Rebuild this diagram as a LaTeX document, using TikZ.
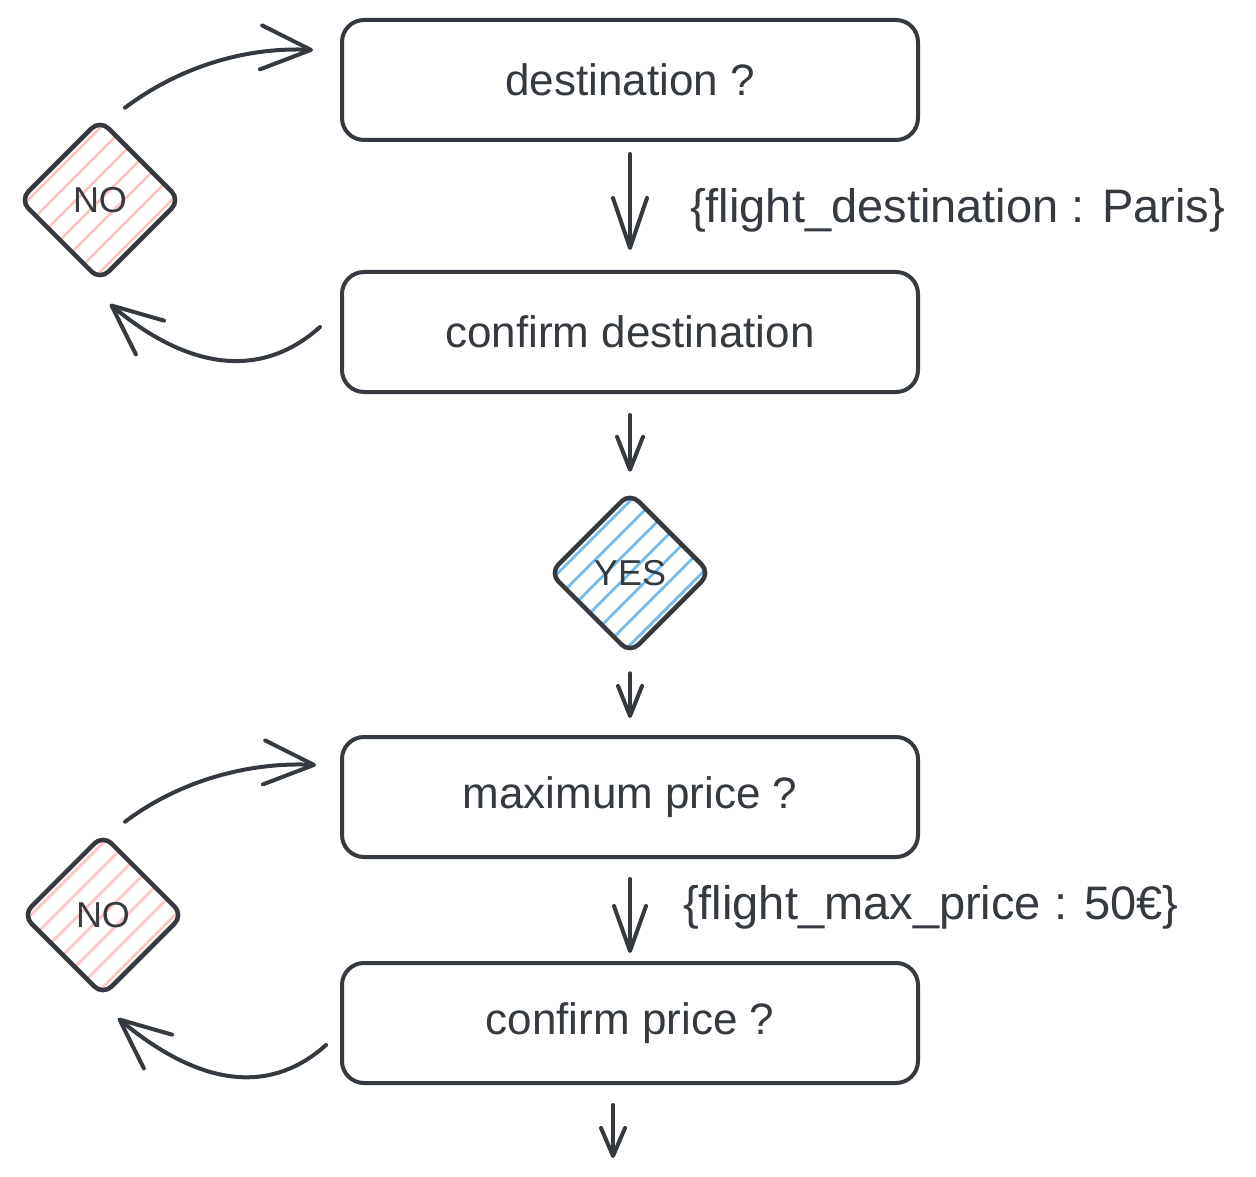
\documentclass[tikz,border=0pt]{standalone}
\usepackage{fontspec}
\setmainfont{Liberation Sans}
\usetikzlibrary{arrows.meta,shapes.geometric}
\definecolor{ink}{HTML}{343A40}
\definecolor{pinkh}{HTML}{FFC3C3}
\definecolor{blueh}{HTML}{74B8F2}
\begin{document}
\begin{tikzpicture}[x=1pt,y=-1pt,
 box/.style={draw=ink,line width=4pt,rounded corners=22pt,minimum width=576pt,minimum height=120pt,inner sep=0pt,font=\fontsize{44}{52}\selectfont,text=ink},
 dia/.style={diamond,draw=ink,line width=4.5pt,rounded corners=12pt,minimum width=162pt,minimum height=162pt,inner sep=0pt,font=\fontsize{36}{42}\selectfont,text=ink},
 hatch/.style={path picture={\foreach \k in {-7,...,7}{\draw[#1,line width=2.5pt] ([shift={(\k*24-110,110)}]path picture bounding box.center) -- ++(220,-220);}}},
 arr/.style 2 args={draw=ink,line width=4pt,line cap=round,-{Straight Barb[length=#1,width=#2,round]}},
 lbl/.style={text=ink,font=\fontsize{47}{54}\selectfont,anchor=west,inner sep=0pt}]
\useasboundingbox[fill=white] (0,0) rectangle (1256,1177);

\node[box] (b1) at (630,80) {destination ?};
\node[box] (b2) at (630,332) {confirm destination};
\node[box] (b3) at (630,797) {maximum price ?};
\node[box] (b4) at (630,1023) {confirm price ?};

\node[dia,hatch=pinkh] (no1) at (100,200) {NO};
\node[dia,hatch=blueh] (yes) at (630,573) {YES};
\node[dia,hatch=pinkh] (no2) at (103,915) {NO};

\node[lbl] (l1) at (690,210) {\{flight\_destination : Paris\}};
\node[lbl] (l2) at (683,907) {\{flight\_max\_price : 50€\}};

\coordinate (out) at (613,1158);

\draw[arr={50pt}{34pt},shorten <=12pt,shorten >=20pt] (b1) -- (b2);
\draw[arr={33pt}{26pt},shorten <=21pt,shorten >=18pt] (b2) -- (yes);
\draw[arr={30pt}{24pt},shorten <=17pt,shorten >=17pt] (yes) -- (b3);
\draw[arr={45pt}{32pt},shorten <=20pt,shorten >=8pt] (b3) -- (b4);
\draw[arr={28pt}{24pt}] ([shift={(-17,20)}]b4.south) -- (out);

\draw[arr={50pt}{44pt}] ([shift={(25,-9)}]no1.north) .. controls +(60,-45) and +(-60,-3) .. ([shift={(-27,-30)}]b1.west);
\draw[arr={50pt}{44pt}] ([shift={(-20,-5)}]b2.west) .. controls +(-50,45) and +(90,75) .. ([shift={(10,21)}]no1.south);
\draw[arr={50pt}{44pt}] ([shift={(22,-10)}]no2.north) .. controls +(60,-45) and +(-60,-3) .. ([shift={(-24,-32)}]b3.west);
\draw[arr={50pt}{44pt}] ([shift={(-14,22)}]b4.west) .. controls +(-50,45) and +(90,75) .. ([shift={(15,20)}]no2.south);
\end{tikzpicture}
\end{document}
